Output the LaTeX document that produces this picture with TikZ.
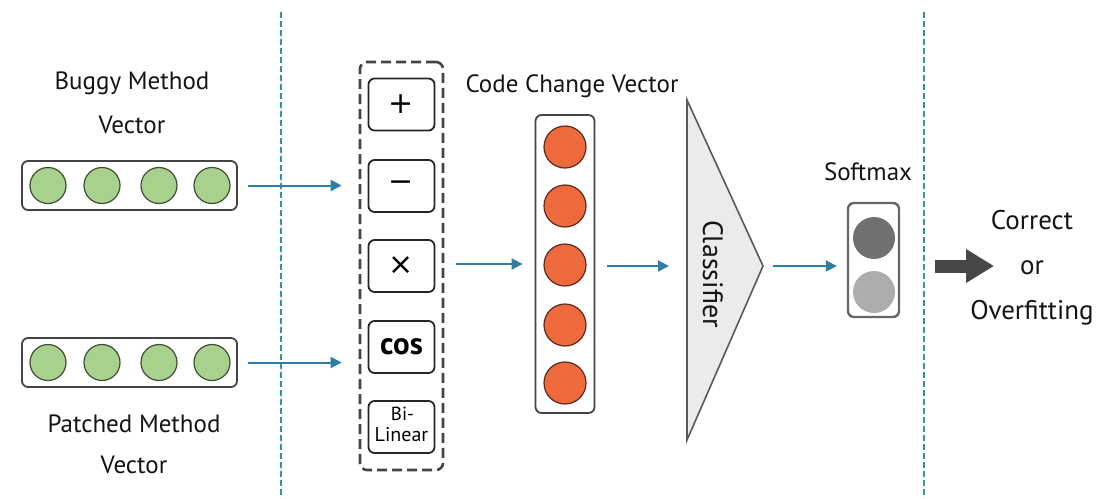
\documentclass[tikz,border=0pt]{standalone}
\usepackage{fontspec}
\setmainfont{PT Sans}
\newfontfamily\opfont{DejaVu Sans}
\usetikzlibrary{arrows.meta}
\definecolor{flowblue}{HTML}{2E7FA8}
\definecolor{sepblue}{HTML}{3A8DB3}
\definecolor{leafgreen}{HTML}{A9D18E}
\definecolor{leafedge}{HTML}{3F4F33}
\definecolor{coral}{HTML}{EE6A3D}
\definecolor{coraledge}{HTML}{5A2A1C}
\definecolor{frame}{HTML}{444444}
\tikzset{
  lbl/.style={font=\fontsize{25}{44}\selectfont, text=black!92, align=center, inner sep=0pt},
  vecbox/.style={draw=frame, line width=1.8pt, rounded corners=6pt, fill=white, inner sep=0pt},
  gnode/.style={circle, draw=leafedge, line width=1.2pt, fill=leafgreen, minimum size=36pt, inner sep=0pt},
  onode/.style={circle, draw=coraledge, line width=1.2pt, fill=coral, minimum size=42pt, inner sep=0pt},
  opbox/.style={draw=black!85, line width=1.8pt, rounded corners=6pt, fill=white,
    minimum width=66pt, minimum height=52pt, inner sep=0pt, font=\opfont\fontsize{30}{32}\selectfont},
  flow/.style={draw=flowblue, line width=2pt, -{Triangle[length=11pt,width=11pt]}},
  sepline/.style={draw=sepblue, line width=1.6pt, dash pattern=on 6pt off 3pt},
}
\begin{document}
\begin{tikzpicture}[x=1pt,y=-1pt]
\useasboundingbox (0,0) rectangle (1097,498);

% section separators
\coordinate (sepAtop) at (281,12);
\coordinate (sepAbot) at (281,498);
\coordinate (sepBtop) at (924,12);
\coordinate (sepBbot) at (924,498);
\draw[sepline] (sepAtop) -- (sepAbot);
\draw[sepline] (sepBtop) -- (sepBbot);

% input vectors
\node[lbl] (bugT) at (132,103) {Buggy Method\\Vector};
\node[vecbox, minimum width=215pt, minimum height=49pt] (bug) at (129.5,185.5) {};
\foreach \x [count=\i] in {48,102,159,212}
  \node[gnode] (b\i) at (\x,185.5) {};

\node[vecbox, minimum width=215pt, minimum height=49pt] (pat) at (129.5,362.5) {};
\foreach \x [count=\i] in {48,102,159,212}
  \node[gnode] (p\i) at (\x,362.5) {};
\node[lbl, font=\fontsize{25}{41}\selectfont] (patT) at (134,444) {Patched Method\\Vector};

% element-wise operators
\node[draw=frame, line width=2.6pt, dash pattern=on 10pt off 5pt, rounded corners=7pt,
      minimum width=83pt, minimum height=408pt, inner sep=0pt] (ops) at (401.5,266) {};
\node[opbox] (opAdd) at (401.5,104.5) {+};
\node[opbox] (opSub) at (401.5,186) {−};
\node[opbox] (opMul) at (401.5,266) {×};
\node[opbox, font=\fontsize{31}{32}\selectfont\bfseries] (opCos) at (401.5,347) {cos};
\node[opbox] (opBil) at (401.5,427) {};
\node[inner sep=0pt, font=\fontsize{19}{19}\selectfont] (bilA) at (402.5,413.5) {Bi-};
\node[inner sep=0pt, font=\fontsize{20}{20}\selectfont] (bilB) at (401.5,434.5) {Linear};

\draw[flow, shorten <=10pt, shorten >=17pt] (bug.east) -- (bug.east -| ops.west);
\draw[flow, shorten <=10pt, shorten >=17pt] (pat.east) -- (pat.east -| ops.west);

% code change vector
\node[lbl] (ccT) at (572,86) {Code Change Vector};
\node[vecbox, minimum width=59pt, minimum height=298pt] (ccv) at (565,264) {};
\foreach \y [count=\i] in {147,206,265,325,383}
  \node[onode] (c\i) at (565,\y) {};
\draw[flow, shorten <=12pt, shorten >=12pt] (ops.east |- ccv.center) -- (ccv.west);

% classifier
\coordinate (clsTop) at (687,100);
\coordinate (clsBot) at (687,440);
\coordinate (clsTip) at (763,266);
\draw[draw=black!65, line width=1.6pt, fill=black!8, line join=miter] (clsTop) -- (clsTip) -- (clsBot) -- cycle;
\node[lbl, rotate=-90, font=\fontsize{28}{30}\selectfont] (clsT) at (713,274) {Classifier};
\draw[flow, shorten <=12pt, shorten >=18pt] (ccv.east |- clsTip) -- (clsTop |- clsTip);

% softmax
\node[lbl] (smT) at (868,172) {Softmax};
\node[draw=black!60, line width=2.4pt, rounded corners=6pt, fill=white,
      minimum width=51pt, minimum height=114pt, inner sep=0pt] (sm) at (873.5,260) {};
\node[circle, fill=black!56, minimum size=42pt, inner sep=0pt] (smA) at (874,238) {};
\node[circle, fill=black!32, minimum size=42pt, inner sep=0pt] (smB) at (874,292) {};
\draw[flow, shorten <=10pt, shorten >=10pt] (clsTip) -- (clsTip -| sm.west);

% decision
\node[lbl, font=\fontsize{27}{45}\selectfont] (res) at (1032,268) {Correct\\or\\Overfitting};
\coordinate (outA) at (935,266);
\coordinate (outB) at (994,266);
\draw[draw=black!72, line width=13pt, -{Triangle[length=28pt,width=32pt]}] (outA) -- (outB);
\end{tikzpicture}
\end{document}
